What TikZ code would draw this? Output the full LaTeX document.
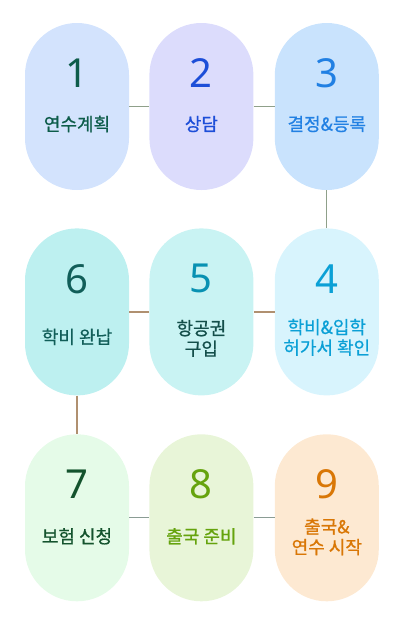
\documentclass[tikz,border=0pt]{standalone}
\usepackage{fontspec}
\setmainfont[FakeBold=0.8]{Noto Sans CJK KR}
\newfontfamily\numfont{Noto Sans}
\usepackage{tikz}
\usetikzlibrary{positioning}

\definecolor{fillA}{HTML}{D3E3FD}
\definecolor{fillB}{HTML}{DCDCFC}
\definecolor{fillC}{HTML}{C9E3FD}
\definecolor{fillD}{HTML}{D8F4FD}
\definecolor{fillE}{HTML}{C9F3F3}
\definecolor{fillF}{HTML}{BDF0F0}
\definecolor{fillG}{HTML}{E5FBE8}
\definecolor{fillH}{HTML}{E8F5D8}
\definecolor{fillI}{HTML}{FDE9D2}

\definecolor{inkA}{HTML}{0D5C4A}
\definecolor{inkB}{HTML}{1D4ED8}
\definecolor{inkC}{HTML}{2180E3}
\definecolor{inkD}{HTML}{0BA0D6}
\definecolor{inkE}{HTML}{0891B2}
\definecolor{inkEtext}{HTML}{134E4A}
\definecolor{inkF}{HTML}{115E59}
\definecolor{inkG}{HTML}{14532D}
\definecolor{inkH}{HTML}{65A30D}
\definecolor{inkI}{HTML}{D97706}

\definecolor{linkTeal}{HTML}{8FA08A}
\definecolor{linkBrown}{HTML}{B09070}
\definecolor{linkGrey}{HTML}{8A9C94}

\begin{document}
\begin{tikzpicture}[x=1pt, y=1pt, node distance=20pt]
        \tikzset{
            pill/.style={rectangle, rounded corners=51.9pt, minimum width=104pt, minimum height=167pt, inner sep=0pt},
            num/.style={font=\numfont\fontsize{40}{40}\selectfont},
            lbl/.style={font=\fontsize{18}{20.5}\selectfont, align=center},
            link/.style={line width=1.3pt}
        }
        \useasboundingbox (0,0) rectangle (400,-640);

        % Steps
        \node[pill, fill=fillA] (S1) at (77,-106.5) {};
        \node[pill, fill=fillB, right=20pt of S1] (S2) {};
        \node[pill, fill=fillC, right=21pt of S2] (S3) {};

        \node[pill, fill=fillD, below=38pt of S3] (S4) {};
        \node[pill, fill=fillE, below=38pt of S2] (S5) {};
        \node[pill, fill=fillF, below=38pt of S1] (S6) {};

        \node[pill, fill=fillG, below=38.5pt of S6] (S7) {};
        \node[pill, fill=fillH, below=38.5pt of S5] (S8) {};
        \node[pill, fill=fillI, below=38.5pt of S4] (S9) {};

        % Numbers
        \node[num, text=inkA, yshift=33.5pt] (N1) at (S1) {1};
        \node[num, text=inkB, yshift=33.5pt] (N2) at (S2) {2};
        \node[num, text=inkC, yshift=33.5pt] (N3) at (S3) {3};
        \node[num, text=inkD, yshift=33pt] (N4) at (S4) {4};
        \node[num, text=inkE, yshift=33pt] (N5) at (S5) {5};
        \node[num, text=inkF, yshift=33pt] (N6) at (S6) {6};
        \node[num, text=inkG, yshift=33.5pt] (N7) at (S7) {7};
        \node[num, text=inkH, yshift=33.5pt] (N8) at (S8) {8};
        \node[num, text=inkI, yshift=33.5pt] (N9) at (S9) {9};

        % Labels
        \node[lbl, text=inkA, yshift=-17.5pt] (L1) at (S1) {연수계획};
        \node[lbl, text=inkB, yshift=-17.5pt] (L2) at (S2) {상담};
        \node[lbl, text=inkC, yshift=-17.5pt] (L3) at (S3) {결정\&등록};
        \node[lbl, text=inkD, yshift=-25.5pt] (L4) at (S4) {학비\&입학\\허가서 확인};
        \node[lbl, text=inkEtext, yshift=-26.5pt] (L5) at (S5) {항공권\\구입};
        \node[lbl, text=inkF, yshift=-25pt] (L6) at (S6) {학비 완납};
        \node[lbl, text=inkG, yshift=-18.5pt] (L7) at (S7) {보험 신청};
        \node[lbl, text=inkH, yshift=-18.5pt] (L8) at (S8) {출국 준비};
        \node[lbl, text=inkI, yshift=-19pt] (L9) at (S9) {출국\&\\연수 시작};

        \draw[link, linkTeal] (S1) -- (S2);
        \draw[link, linkTeal] (S2) -- (S3);
        \draw[link, linkTeal] (S3) -- (S4);
        \draw[link, linkBrown] (S4) -- (S5);
        \draw[link, linkBrown] (S5) -- (S6);
        \draw[link, linkBrown] (S6) -- (S7);
        \draw[link, linkGrey] (S7) -- (S8);
        \draw[link, linkGrey] (S8) -- (S9);
    \end{tikzpicture}
\end{document}
